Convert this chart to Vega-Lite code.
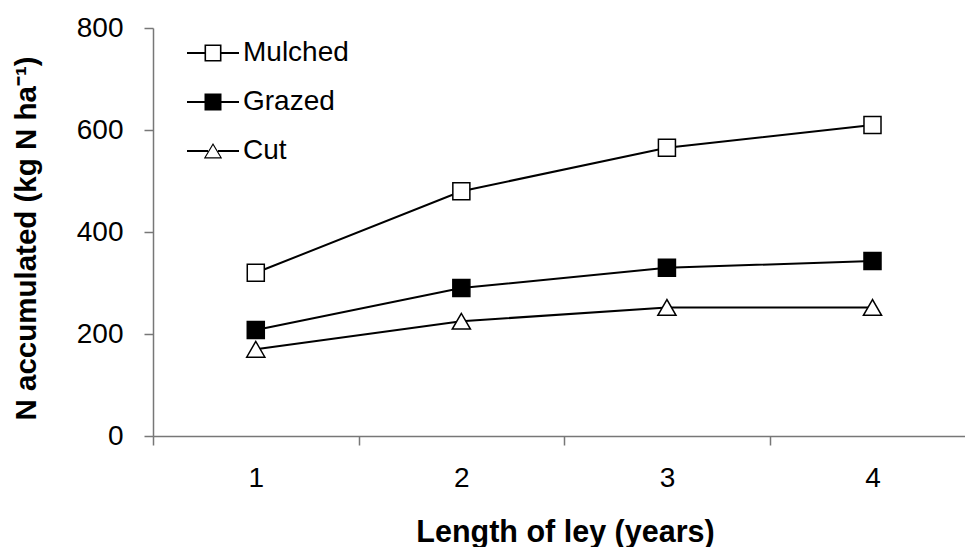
{
  "$schema": "https://vega.github.io/schema/vega-lite/v6.json",
  "autosize": {"type": "none"},
  "padding": {"left": 153, "top": 28, "right": 0, "bottom": 111},
  "width": 812,
  "height": 408,
  "background": "white",
  "config": {
    "view": {"stroke": null},
    "font": "Liberation Sans",
    "axis": {"labelFont": "Liberation Sans", "titleFont": "Liberation Sans"}
  },
  "data": {
    "values": [
      {"year": 1, "treatment": "Mulched", "n": 320},
      {"year": 2, "treatment": "Mulched", "n": 480},
      {"year": 3, "treatment": "Mulched", "n": 565},
      {"year": 4, "treatment": "Mulched", "n": 610},
      {"year": 1, "treatment": "Grazed", "n": 208},
      {"year": 2, "treatment": "Grazed", "n": 290},
      {"year": 3, "treatment": "Grazed", "n": 330},
      {"year": 4, "treatment": "Grazed", "n": 343},
      {"year": 1, "treatment": "Cut", "n": 170},
      {"year": 2, "treatment": "Cut", "n": 225},
      {"year": 3, "treatment": "Cut", "n": 252},
      {"year": 4, "treatment": "Cut", "n": 252}
    ]
  },
  "encoding": {
    "x": {
      "field": "year",
      "type": "quantitative",
      "scale": {"domain": [0.5, 4.45], "nice": false, "zero": false},
      "axis": {
        "title": "Length of ley (years)",
        "values": [0.5, 1.5, 2.5, 3.5],
        "labelExpr": "format(datum.value + 0.5, 'd')",
        "labelOffset": 102.8,
        "labelFlush": false,
        "labelOverlap": false,
        "grid": false,
        "domainColor": "#777777",
        "domainWidth": 1.5,
        "tickColor": "#777777",
        "tickWidth": 1.5,
        "tickSize": 9,
        "labelFontSize": 28,
        "labelColor": "black",
        "labelPadding": 19,
        "titleFontSize": 30.5,
        "titleFontWeight": "bold",
        "titleColor": "black",
        "titlePadding": 25,
        "titleX": 412
      }
    },
    "y": {
      "field": "n",
      "type": "quantitative",
      "scale": {"domain": [0, 800], "nice": false},
      "axis": {
        "title": "N accumulated (kg N ha⁻¹)",
        "values": [0, 200, 400, 600, 800],
        "grid": false,
        "domainColor": "#777777",
        "domainWidth": 1.5,
        "tickColor": "#777777",
        "tickWidth": 1.5,
        "tickSize": 9,
        "labelFontSize": 28,
        "labelColor": "black",
        "labelPadding": 21,
        "titleFontSize": 29.5,
        "titleFontWeight": "bold",
        "titleColor": "black",
        "titlePadding": 35,
        "titleY": 210
      }
    }
  },
  "layer": [
    {
      "mark": {"type": "line", "color": "black", "strokeWidth": 2},
      "encoding": {"detail": {"field": "treatment"}}
    },
    {
      "transform": [{"filter": "datum.treatment === 'Mulched'"}],
      "mark": {"type": "point", "shape": "square", "filled": true, "fill": "white", "stroke": "black", "strokeWidth": 1.5, "opacity": 1, "size": 290}
    },
    {
      "transform": [{"filter": "datum.treatment === 'Grazed'"}],
      "mark": {"type": "point", "shape": "square", "filled": true, "fill": "black", "stroke": "black", "strokeWidth": 1.5, "opacity": 1, "size": 290}
    },
    {
      "transform": [{"filter": "datum.treatment === 'Cut'"}],
      "mark": {"type": "point", "shape": "triangle-up", "filled": true, "fill": "white", "stroke": "black", "strokeWidth": 1.5, "opacity": 1, "size": 330}
    },
    {
      "transform": [{"filter": "datum.n < 0"}],
      "mark": {"type": "point", "filled": true, "fill": "black", "opacity": 1},
      "encoding": {
        "shape": {
          "field": "treatment",
          "type": "nominal",
          "scale": {
            "domain": ["Mulched", "Grazed", "Cut"],
            "range": [
              "M-2.6,-0.1H-0.85V0.1H-2.6ZM0.85,-0.1H2.6V0.1H0.85ZM-0.85,-0.85H0.85V0.85H-0.85ZM-0.69,-0.69V0.69H0.69V-0.69Z",
              "M-2.6,-0.1H-0.85V0.1H-2.6ZM0.85,-0.1H2.6V0.1H0.85ZM-0.85,-0.85H0.85V0.85H-0.85Z",
              "M-2.6,-0.1H-0.5V0.1H-2.6ZM0.5,-0.1H2.6V0.1H0.5ZM0,-0.8L0.92,0.75H-0.92ZM0,-0.57L-0.72,0.62H0.72Z"
            ]
          },
          "legend": {
            "title": null,
            "orient": "none",
            "legendX": 46,
            "legendY": 11,
            "padding": 0,
            "rowPadding": 21,
            "symbolSize": 400,
            "symbolFillColor": "black",
            "symbolOpacity": 1,
            "labelFontSize": 28,
            "labelColor": "black",
            "labelOffset": 16,
            "labelLimit": 300
          }
        }
      }
    }
  ]
}
